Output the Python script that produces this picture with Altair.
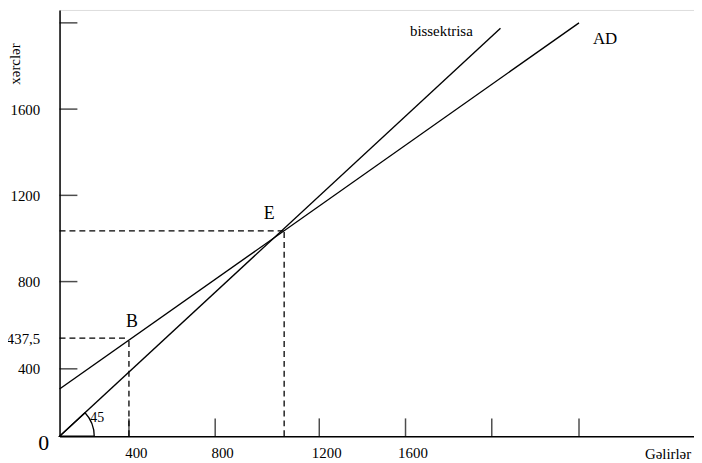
import altair as alt
import pandas as pd

FONT = "Liberation Serif, DejaVu Serif, serif"

# ---- values ----
x_tick_values = [400, 800, 1200, 1600, 2000, 2400]
x_label_values = [400, 800, 1200, 1600]
y_tick_values = [400, 800, 1200, 1600, 2000]
y_label_values = [400, 437.5, 800, 1200, 1600]

bis_x = [0, 2040]
bis_y = [0, 1975]
ad_x = [0, 2400]
ad_y = [280, 2000]

point_B = [400, 437.5]
point_E = [1065, 1035]

# the drawing is not evenly spaced: piecewise scales (value -> pixel)
x_domain = [0, 400, 800, 1200, 1600, 2000, 2400, 2930]
x_range = [0, 70, 157, 262, 349, 436, 524, 640]
y_domain = [0, 400, 437.5, 800, 1200, 1600, 2000, 2060]
y_range = [430, 362, 331, 274, 187, 100, 13, 0]

xscale = alt.Scale(domain=x_domain, range=x_range, nice=False, zero=False, clamp=False)
yscale = alt.Scale(domain=y_domain, range=y_range, nice=False, zero=False, clamp=False)

xaxis = alt.Axis(values=x_label_values, ticks=False, grid=False,
                 labelExpr="toString(datum.value)",
                 domainColor="black", domainWidth=1.5,
                 labelFont=FONT, labelFontSize=15, labelColor="black",
                 labelPadding=9, labelOffset=7, labelFlush=False, labelOverlap=False,
                 title="Gəlirlər", titleX=590, titleY=17, titleAlign="left",
                 titleBaseline="middle", titleFont=FONT, titleFontSize=15,
                 titleFontWeight="normal", titleColor="black")
yaxis = alt.Axis(values=y_label_values, ticks=False, grid=False,
                 labelExpr="replace(toString(datum.value), '.', ',')",
                 domainColor="black", domainWidth=1.5,
                 labelFont=FONT, labelFontSize=15, labelColor="black",
                 labelPadding=20, labelFlush=False, labelOverlap=False,
                 title="xərclər", titleX=-45, titleY=54, titleAngle=270,
                 titleAlign="center", titleBaseline="middle", titleFont=FONT,
                 titleFontSize=15, titleFontWeight="normal", titleColor="black")


def X(field):
    return alt.X(field, type="quantitative", scale=xscale, axis=xaxis)


def Y(field):
    return alt.Y(field, type="quantitative", scale=yscale, axis=yaxis)


lines_df = pd.DataFrame({
    "series": ["bissektrisa"] * 2 + ["AD"] * 2,
    "x": bis_x + ad_x,
    "y": bis_y + ad_y,
})

dash_df = pd.DataFrame({
    "x": [0, point_B[0], 0, point_E[0]],
    "y": [point_B[1], 0, point_E[1], 0],
    "x2": [point_B[0], point_B[0], point_E[0], point_E[0]],
    "y2": [point_B[1], point_B[1], point_E[1], point_E[1]],
})

xt_df = pd.DataFrame({"x": x_tick_values, "y": [0] * len(x_tick_values)})
yt_df = pd.DataFrame({"x": [0] * len(y_tick_values), "y": y_tick_values})
origin_df = pd.DataFrame({"x": [0], "y": [0]})

lines = alt.Chart(lines_df).mark_line(color="black", strokeWidth=1.4).encode(
    x=X("x"), y=Y("y"), detail="series:N")

dashes = alt.Chart(dash_df).mark_rule(color="black", strokeWidth=1.3, strokeDash=[6, 4]).encode(
    x=X("x"), y=Y("y"), x2="x2", y2="y2")

xticks = alt.Chart(xt_df).mark_tick(orient="vertical", size=18, thickness=1.5,
                                    color="black", yOffset=-9).encode(x=X("x"), y=Y("y"))
yticks = alt.Chart(yt_df).mark_tick(orient="horizontal", size=18, thickness=1.5,
                                    color="black", xOffset=9).encode(x=X("x"), y=Y("y"))

arc = alt.Chart(origin_df).mark_arc(radius=35, stroke="black", strokeWidth=1.3,
                                    fillOpacity=0, theta=0.826, theta2=1.5708).encode(
    x=X("x"), y=Y("y"))


def label(xv, yv, txt, dx, dy, size, align="center"):
    df = pd.DataFrame({"x": [xv], "y": [yv], "t": [txt]})
    return alt.Chart(df).mark_text(font=FONT, fontSize=size, color="black", dx=dx, dy=dy,
                                   align=align, baseline="middle").encode(
        x=X("x"), y=Y("y"), text="t:N")


texts = [
    label(0, 0, "0", -16, 7, 22),
    label(0, 0, "45", 38, -18, 14),
    label(point_B[0], point_B[1], "B", 3, -16, 18),
    label(point_E[0], point_E[1], "E", -15, -17, 18),
    label(bis_x[1], bis_y[1], "bissektrisa", -28, 3, 15, "right"),
    label(ad_x[1], ad_y[1], "AD", 14, 16, 17, "left"),
]

chart = alt.layer(lines, dashes, xticks, yticks, arc, *texts).properties(
    width=640, height=430,
    padding={"left": 52, "top": 0, "right": 0, "bottom": 25},
    autosize="none",
).configure_view(strokeWidth=0).configure(background="white")

chart.save("out.html", embed_options={"renderer": "svg", "actions": False})
